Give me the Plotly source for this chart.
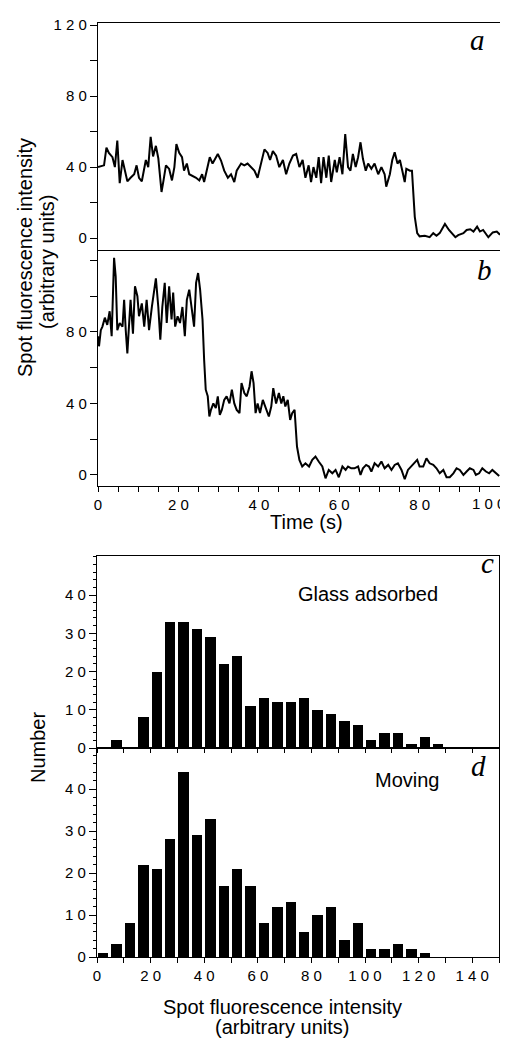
import plotly.graph_objects as go

# ---------------- data ----------------
# Trace a: time (s) and spot intensity
time_a = [0, 1.5, 2.1, 2.7, 3.6, 4.2, 4.8, 5.4, 6.1, 6.7, 7.3, 8.1, 9.0, 9.6, 10.2, 10.9, 11.9, 12.5,
          13.1, 13.7, 14.4, 15.0, 15.8, 16.3, 16.9, 17.7, 18.4, 19.0, 19.5, 20.2, 20.9, 21.4, 22.1,
          22.7, 23.5, 24.4, 25.2, 25.9, 26.4, 27.3, 27.8, 28.5, 29.2, 29.8, 30.6, 31.4, 32.3, 33.1,
          33.9, 34.5, 35.6, 36.4, 37.2, 38.1, 38.9, 39.7, 40.6, 41.4, 42.2, 42.8, 43.5, 44.3, 45.1,
          46.0, 46.8, 47.6, 48.5, 49.3, 50.1, 50.9, 51.6, 52.4, 53.0, 53.6, 54.3, 54.9, 55.5, 56.1,
          56.8, 57.4, 58.0, 58.9, 59.4, 60.1, 60.8, 61.5, 62.2, 62.8, 63.4, 64.1, 64.7, 65.3, 65.9,
          66.6, 67.2, 68.0, 68.8, 69.7, 70.5, 71.3, 71.7, 72.6, 73.2, 73.8, 74.5, 75.1, 75.7, 76.3,
          76.7, 77.6, 78.1, 78.4, 78.8, 79.4, 80.0, 81.3, 82.5, 83.4, 84.2, 85.0, 86.3, 87.3, 88.1,
          88.9, 89.6, 90.9, 91.7, 92.6, 93.4, 94.3, 95.0, 95.8, 97.1, 98.2, 99.2, 100]
intensity_a = [40, 41, 51, 48, 45.6, 40, 55, 31, 44, 38, 32, 34, 36, 41, 34, 32, 44, 40,
               57, 46, 52, 45, 26, 32.5, 41, 39, 32.5, 40, 53, 48, 45.6, 38, 42,
               36, 35, 34, 32.5, 36, 31.6, 40, 45.6, 42, 44.7, 47.4, 43.7, 38, 34, 36,
               31.6, 38, 42, 41, 42, 40, 38, 34, 42, 50, 48, 44, 49, 46.5, 40,
               44, 36, 42, 46.5, 47.4, 40, 44, 34, 41, 31.6, 40, 34, 45.6, 31, 45.6,
               34, 46.5, 31.6, 44, 37, 45.6, 36, 58.6, 40, 38, 47.4, 40, 45.6, 54, 44.7,
               38, 42, 39, 42, 36, 40, 36, 29, 36, 44, 48.4, 42, 44, 38, 31.6,
               39, 38, 38, 27, 12, 2.8, 1, 1.3, 0.5, 2.8, 1.3, 2.8, 8, 4.6, 2.8,
               0.5, 1.7, 2.8, 4.6, 5, 3.7, 6.5, 3.7, 4.6, 0.5, 3.2, 3.7, 1.9]

# Trace b: time (s) and spot intensity
time_b = [0, 0.25, 0.7, 1.1, 1.7, 2.3, 2.9, 3.4, 4.0, 4.4, 4.8, 5.4, 6.1, 6.5, 6.9, 7.3, 7.7, 8.1,
          8.7, 9.2, 9.8, 10.2, 10.9, 11.5, 12.1, 12.7, 13.4, 14.0, 14.4, 15.0, 15.5, 16.0, 16.6,
          17.1, 17.7, 18.3, 18.7, 19.2, 19.8, 20.4, 21.0, 21.6, 22.1, 22.7, 23.4, 23.9, 24.4, 24.9,
          25.4, 26.0, 26.4, 26.8, 27.3, 27.7, 28.1, 28.7, 29.3, 29.8, 30.3, 30.8, 31.4, 32.0, 32.7,
          33.3, 33.9, 34.5, 35.2, 35.7, 36.4, 37.0, 37.7, 38.2, 38.7, 39.2, 39.7, 40.3, 41.0, 41.8,
          42.5, 43.1, 43.6, 44.3, 45.0, 45.6, 46.1, 46.6, 47.2, 47.8, 48.3, 48.9, 49.1, 49.5, 50.1,
          50.8, 51.6, 52.5, 53.3, 54.1, 54.9, 55.8, 56.6, 57.4, 58.3, 59.1, 59.9, 60.8, 61.6, 62.2,
          63.0, 63.8, 64.7, 65.3, 65.9, 66.7, 67.4, 68.0, 68.8, 69.7, 70.5, 71.3, 72.2, 73.0, 73.8,
          74.6, 75.5, 76.3, 77.1, 77.9, 78.8, 79.4, 80.0, 80.9, 81.7, 82.5, 83.4, 84.2, 85.0, 85.9,
          86.7, 87.5, 88.4, 89.2, 90.0, 90.9, 91.7, 92.5, 93.4, 94.0, 94.8, 95.6, 96.5, 97.3, 98.1,
          99.0, 99.8]
intensity_b = [77.6, 72, 81, 83, 88, 84, 91.6, 77.6, 121.5, 111, 81, 85, 83, 98, 81, 68, 83, 98,
               79, 105.6, 100, 88.8, 96, 83, 98, 81, 94, 103.7, 110, 94, 75.7, 94, 107.5,
               85, 105.6, 87, 102, 83, 88.8, 85, 94, 77.6, 98, 103.7, 90.7, 83, 107.5, 113,
               103.7, 87, 64.5, 47.7, 44, 32.7, 36.4, 40, 37.4, 44, 33.6, 36.4, 42, 44, 40,
               47.7, 40, 36.4, 34.6, 51.4, 45.8, 44, 49.5, 58, 51.4, 34.6, 40, 34.6, 42, 36.4,
               32.7, 38.3, 48.6, 40, 45.8, 40, 44, 38.3, 42, 30.8, 34.6, 36.4, 27, 15.9, 8.4,
               4.7, 6.5, 4.7, 8.4, 10.3, 7.5, 4.7, -1.9, 2.8, 0.9, 2.8, -1.3, 4.7, 2.8, 4.7,
               3.7, 3.7, 4.7, 0, 3.7, 5.6, 4.7, 1.9, 6.5, 4.7, 7.5, 3.7, 5.6, 2.8, 5.6,
               6.5, 2.8, -2.4, 2.8, 4.7, 6.5, 8.4, 4.7, 4.7, 9.3, 6.5, 5.6, 3.7, 0.9, 2.8,
               -1.3, -1.3, 0.9, 3.7, 2.8, 0, 1.9, 3.7, 2.8, 0, 0.9, 3.7, 1.9, 0.9, 2.8,
               0.9, -0.6]

# Histograms: bin left edges (arbitrary units) and counts
bin_left = [0, 5, 10, 15, 20, 25, 30, 35, 40, 45, 50, 55, 60, 65, 70, 75, 80, 85, 90, 95,
            100, 105, 110, 115, 120, 125]
count_glass = [0, 2, 0, 8, 20, 33, 33, 31, 29, 22, 24, 11, 13, 12, 12, 13, 10, 9, 7, 6,
               2, 4, 4, 1, 3, 1]
count_moving = [1, 3, 8, 22, 21, 28, 44, 29, 33, 17, 21, 17, 8, 12, 13, 6, 10, 12, 4, 8,
                2, 2, 3, 2, 1, 0]

# tick labels
trace_y_labeled = [0, 40, 80, 120]
time_x_labeled = [0, 20, 40, 60, 80, 100]
hist_y_labeled = [0, 10, 20, 30, 40]
hist_x_labeled = [0, 20, 40, 60, 80, 100, 120, 140]


def spaced(vals):
    return [" ".join(str(v)) for v in vals]


# the page body has an 8 px margin; lay out in page pixel coordinates
OFF = 8
W, H = 500, 1042


def px(x):
    return (x - OFF) / W


def py(y):
    return 1 - (y - OFF) / H


TICKFONT = dict(family="Liberation Sans, Arial, sans-serif", size=15, color="black")
LABFONT = dict(family="Liberation Sans, Arial, sans-serif", size=20, color="black")
LETTERFONT = dict(family="Liberation Serif, Times New Roman, serif", size=29, color="black")

fig = go.Figure()

fig.add_trace(go.Scatter(x=time_a, y=intensity_a, mode="lines", xaxis="x", yaxis="y",
                         line=dict(color="black", width=2), showlegend=False))
fig.add_trace(go.Scatter(x=time_b, y=intensity_b, mode="lines", xaxis="x2", yaxis="y2",
                         line=dict(color="black", width=2), showlegend=False))
fig.add_trace(go.Bar(x=bin_left, y=count_glass, xaxis="x3", yaxis="y3", offset=0.35, width=3.9,
                     marker=dict(color="black", line=dict(width=0)), showlegend=False))
fig.add_trace(go.Bar(x=bin_left, y=count_moving, xaxis="x4", yaxis="y4", offset=0.35, width=3.9,
                     marker=dict(color="black", line=dict(width=0)), showlegend=False))

axis_common = dict(showline=True, linecolor="black", linewidth=1.3, mirror=True,
                   showgrid=False, zeroline=False, tickcolor="black", tickfont=TICKFONT,
                   automargin=False)

xa_dom = [px(98), px(500)]
xh_dom = [px(97), px(499)]

# last time label sits at the right page edge: drawn as a right-aligned text instead
time_ticktext = spaced(time_x_labeled[:-1]) + [""]

fig.update_layout(
    width=W, height=H, margin=dict(l=0, r=0, t=0, b=0),
    paper_bgcolor="white", plot_bgcolor="white", bargap=0,
    xaxis=dict(domain=xa_dom, range=[0, 100], anchor="y", showticklabels=False, ticks="",
               **axis_common),
    yaxis=dict(domain=[py(250), py(23)], range=[-6.7, 121.2], anchor="x",
               tickvals=trace_y_labeled, ticktext=spaced(trace_y_labeled),
               ticks="outside", ticklen=7, tickwidth=1.2,
               minor=dict(dtick=20, tick0=0, ticks="outside", ticklen=7, tickwidth=1.2,
                          tickcolor="black"),
               **axis_common),
    xaxis2=dict(domain=xa_dom, range=[0, 100], anchor="y2",
                tickvals=time_x_labeled, ticktext=time_ticktext,
                ticks="outside", ticklen=5, tickwidth=1.2,
                minor=dict(dtick=5, tick0=0, ticks="outside", ticklen=5, tickwidth=1.2,
                           tickcolor="black"),
                **axis_common),
    yaxis2=dict(domain=[py(486), py(250.5)], range=[-6.2, 125.6], anchor="x2",
                tickvals=trace_y_labeled[:3], ticktext=spaced(trace_y_labeled[:3]),
                ticks="outside", ticklen=7, tickwidth=1.2,
                minor=dict(dtick=20, tick0=0, ticks="outside", ticklen=7, tickwidth=1.2,
                           tickcolor="black"),
                **axis_common),
    xaxis3=dict(domain=xh_dom, range=[0, 150], anchor="y3", showticklabels=False,
                ticks="outside", ticklen=4, tickwidth=1.2, dtick=10, tick0=0,
                **axis_common),
    yaxis3=dict(domain=[py(748), py(556)], range=[0, 50.2], anchor="x3",
                tickvals=hist_y_labeled, ticktext=spaced(hist_y_labeled),
                ticks="outside", ticklen=7, tickwidth=1.2,
                minor=dict(dtick=2, tick0=0, ticks="outside", ticklen=3, tickwidth=1,
                           tickcolor="black"),
                **axis_common),
    xaxis4=dict(domain=xh_dom, range=[0, 150], anchor="y4",
                tickvals=hist_x_labeled, ticktext=spaced(hist_x_labeled),
                ticks="outside", ticklen=5, tickwidth=1.2, ticklabeloverflow="allow",
                minor=dict(dtick=10, tick0=0, ticks="outside", ticklen=5, tickwidth=1.2,
                           tickcolor="black"),
                **axis_common),
    yaxis4=dict(domain=[py(957), py(748)], range=[0, 49.8], anchor="x4",
                tickvals=hist_y_labeled, ticktext=spaced(hist_y_labeled),
                ticks="outside", ticklen=7, tickwidth=1.2,
                minor=dict(dtick=2, tick0=0, ticks="outside", ticklen=3, tickwidth=1,
                           tickcolor="black"),
                **axis_common),
)

ann = [
    dict(text="<i>a</i>", x=px(477), y=py(40), font=LETTERFONT),
    dict(text="<i>b</i>", x=px(484), y=py(270), font=LETTERFONT),
    dict(text="<i>c</i>", x=px(487), y=py(563), font=LETTERFONT),
    dict(text="<i>d</i>", x=px(478), y=py(766), font=LETTERFONT),
    dict(text="Glass adsorbed", x=px(368), y=py(594), font=LABFONT),
    dict(text="Moving", x=px(407), y=py(780), font=LABFONT),
    dict(text="Time (s)", x=px(306), y=py(522), font=LABFONT),
    dict(text="Spot fluorescence intensity", x=px(25), y=py(258), font=LABFONT, textangle=-90),
    dict(text="(arbitrary units)", x=px(47), y=py(262), font=LABFONT, textangle=-90),
    dict(text="Number", x=px(38), y=py(748), font=LABFONT, textangle=-90),
    dict(text="Spot fluorescence intensity", x=px(282), y=py(1007), font=LABFONT),
    dict(text="(arbitrary units)", x=px(282), y=py(1027), font=LABFONT),
]
for a in ann:
    fig.add_annotation(xref="paper", yref="paper", showarrow=False,
                       xanchor="center", yanchor="middle", **a)

fig.add_annotation(xref="paper", yref="paper", showarrow=False, xanchor="right",
                   yanchor="middle", x=px(507), y=py(503),
                   text=spaced(time_x_labeled[-1:])[0], font=TICKFONT)

fig.write_html("out.html")
